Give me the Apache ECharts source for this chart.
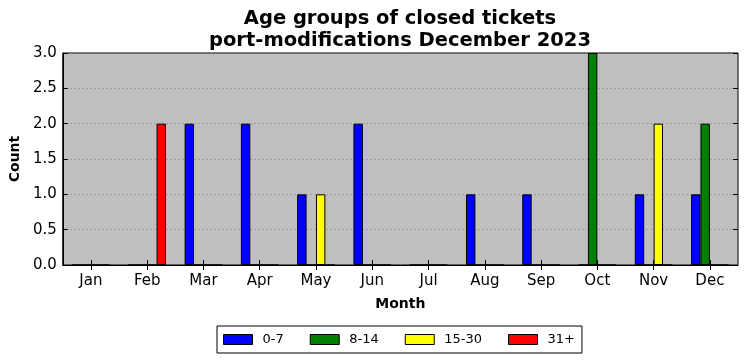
<!DOCTYPE html>
<html>
<head>
<meta charset="utf-8">
<script src="https://cdn.jsdelivr.net/npm/echarts@6/dist/echarts.min.js"></script>
<style>html,body{margin:0;padding:0;background:#fff}#c{width:747px;height:361px}</style>
</head>
<body>
<div id="c"></div>
<script>
const months = ['Jan','Feb','Mar','Apr','May','Jun','Jul','Aug','Sep','Oct','Nov','Dec'];
const seriesNames = ['0-7','8-14','15-30','31+'];
const s0_7   = [0,0,2,2,1,2,0,1,1,0,1,1];
const s8_14  = [0,0,0,0,0,0,0,0,0,3,0,2];
const s15_30 = [0,0,0,0,1,0,0,0,0,0,2,0];
const s31    = [0,2,0,0,0,0,0,0,0,0,0,0];
const yTicks = [0,0.5,1,1.5,2,2.5,3];
const colors = ['#0000ff','#008000','#ffff00','#ff0000'];
const values = [s0_7, s8_14, s15_30, s31];

const FONT = 'DejaVu Sans';
const chart = echarts.init(document.getElementById('c'), null, {renderer:'canvas'});
const tickStyle = {show:true, inside:true, length:5, lineStyle:{color:'#000', width:1}};
chart.setOption({
  animation:false,
  textStyle:{fontFamily:FONT, color:'#000'},
  title:{
    text:'Age groups of closed tickets\nport-modifications December 2023',
    left:400, top:8, textAlign:'center', padding:0,
    textStyle:{fontFamily:FONT, fontSize:19.5, fontWeight:'bold', lineHeight:22, color:'#000'}
  },
  legend:{
    data:seriesNames, left:217, top:326, orient:'horizontal',
    padding:[7,7,7,6], itemGap:26, itemWidth:29, itemHeight:10,
    borderColor:'#000', borderWidth:1, borderRadius:0, backgroundColor:'#fff',
    icon:'rect',
    itemStyle:{borderColor:'#000', borderWidth:1},
    textStyle:{fontFamily:FONT, fontSize:13, color:'#000', padding:[0,0,0,5]}
  },
  grid:{left:62, right:9, top:53, bottom:96, show:true, backgroundColor:'#bfbfbf', borderColor:'#000', borderWidth:1, containLabel:false},
  xAxis:[{
    type:'category', data:months, position:'bottom',
    name:'Month', nameLocation:'middle', nameGap:32,
    nameTextStyle:{fontFamily:FONT, fontSize:14, fontWeight:'bold', color:'#000'},
    axisLine:{show:true, lineStyle:{color:'#000'}},
    axisTick:Object.assign({alignWithLabel:true}, tickStyle),
    axisLabel:{fontFamily:FONT, fontSize:15, color:'#000', margin:9},
    splitLine:{show:false}
  },{
    type:'category', data:months, position:'top',
    axisLine:{show:false},
    axisTick:Object.assign({alignWithLabel:true}, tickStyle),
    axisLabel:{show:false}, splitLine:{show:false}
  }],
  yAxis:[{
    type:'value', min:0, max:3, interval:0.5, position:'left',
    name:'Count', nameLocation:'middle', nameGap:38,
    nameTextStyle:{fontFamily:FONT, fontSize:14, fontWeight:'bold', color:'#000'},
    axisLine:{show:true, lineStyle:{color:'#000'}},
    axisTick:tickStyle,
    axisLabel:{fontFamily:FONT, fontSize:15, color:'#000', margin:6, formatter:v=>v.toFixed(1)},
    splitLine:{show:true, lineStyle:{color:'#808080', type:[1,3], width:1}}
  },{
    type:'value', min:0, max:3, interval:0.5, position:'right',
    axisLine:{show:false}, axisTick:tickStyle, axisLabel:{show:false}, splitLine:{show:false}
  }],
  series: seriesNames.map((n,i)=>({
    name:n, type:'bar', data:values[i], xAxisIndex:0, yAxisIndex:0,
    barWidth:9.4, barGap:'0%',
    itemStyle:{color:colors[i], borderColor:'#000', borderWidth:1},
    emphasis:{disabled:true}
  }))
});
</script>
</body>
</html>
